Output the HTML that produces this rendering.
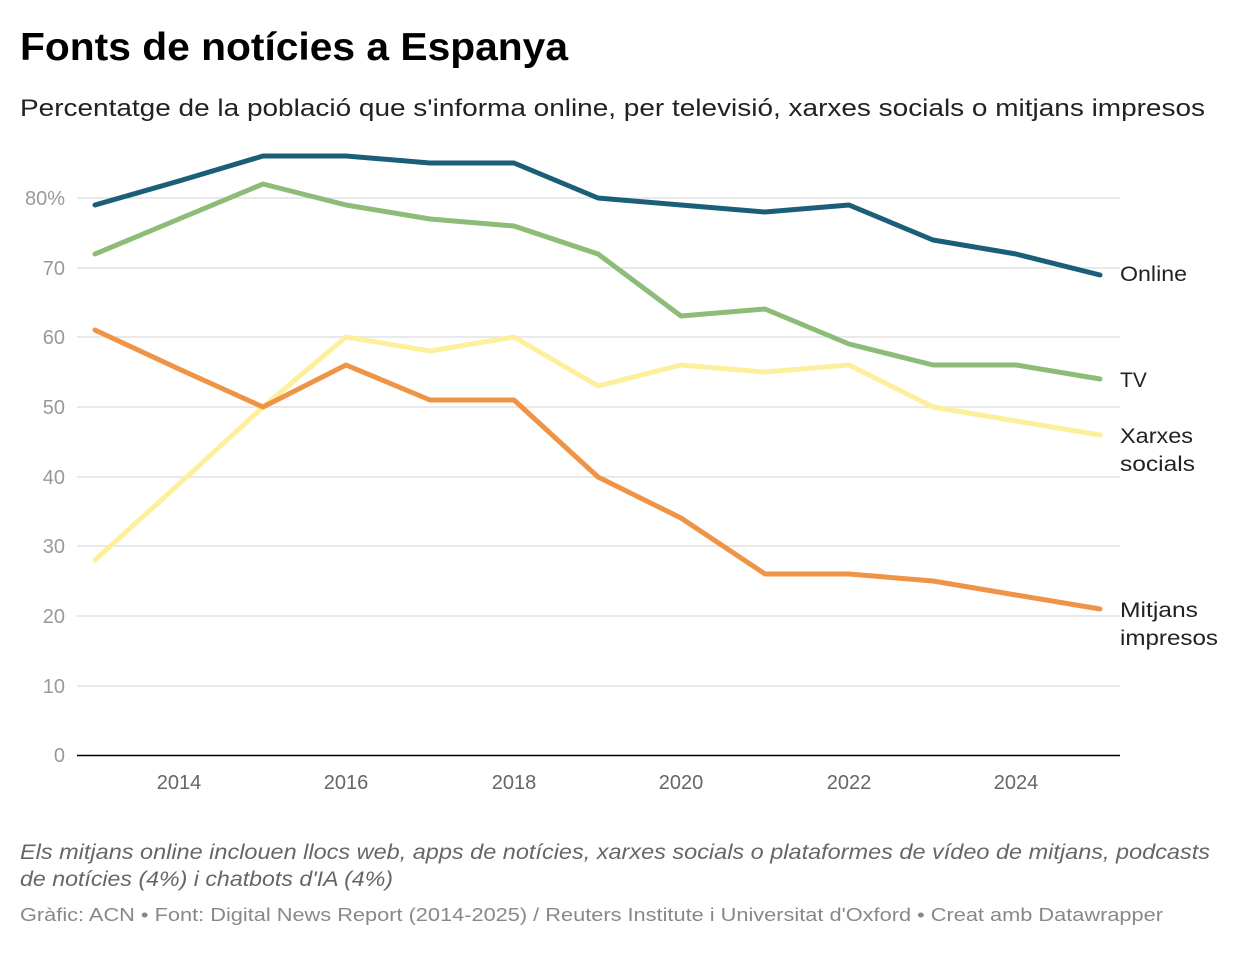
<!DOCTYPE html>
<html><head><meta charset="utf-8"><style>
body{margin:0;background:#fff;font-family:"Liberation Sans",sans-serif;}
</style></head><body>
<svg width="1240" height="948" xmlns="http://www.w3.org/2000/svg" font-family="Liberation Sans, sans-serif">
<text x="20" y="60" font-size="39" font-weight="bold" fill="#000" textLength="548" lengthAdjust="spacingAndGlyphs">Fonts de notícies a Espanya</text>
<text x="20" y="116" font-size="24" fill="#222" textLength="1185" lengthAdjust="spacingAndGlyphs">Percentatge de la població que s'informa online, per televisió, xarxes socials o mitjans impresos</text>
<g stroke="#e2e2e2" stroke-width="1.5">
<line x1="77" x2="1120" y1="198" y2="198"/><line x1="77" x2="1120" y1="268" y2="268"/><line x1="77" x2="1120" y1="337" y2="337"/><line x1="77" x2="1120" y1="407" y2="407"/><line x1="77" x2="1120" y1="477" y2="477"/><line x1="77" x2="1120" y1="546" y2="546"/><line x1="77" x2="1120" y1="616" y2="616"/><line x1="77" x2="1120" y1="686" y2="686"/>
</g>
<line x1="77" x2="1120" y1="755.5" y2="755.5" stroke="#000" stroke-width="1.5"/>
<g font-size="20" fill="#999" text-anchor="end">
<text x="65" y="205">80%</text><text x="65" y="275">70</text><text x="65" y="344">60</text><text x="65" y="414">50</text><text x="65" y="484">40</text><text x="65" y="553">30</text><text x="65" y="623">20</text><text x="65" y="693">10</text><text x="65" y="762">0</text>
</g>
<g font-size="20" fill="#666" text-anchor="middle">
<text x="179" y="789">2014</text><text x="346" y="789">2016</text><text x="514" y="789">2018</text><text x="681" y="789">2020</text><text x="849" y="789">2022</text><text x="1016" y="789">2024</text>
</g>
<g fill="none" stroke-width="5" stroke-linejoin="round" stroke-linecap="round">
<polyline stroke="#fdef9b" points="95,560 179,484 263,407 346,337 430,351 514,337 598,386 681,365 765,372 849,365 933,407 1016,421 1100,435"/>
<polyline stroke="#ef9446" points="95,330 179,369 263,407 346,365 430,400 514,400 598,477 681,518 765,574 849,574 933,581 1016,595 1100,609"/>
<polyline stroke="#8cbc78" points="95,254 179,219 263,184 346,205 430,219 514,226 598,254 681,316 765,309 849,344 933,365 1016,365 1100,379"/>
<polyline stroke="#1a5e78" points="95,205 179,181 263,156 346,156 430,163 514,163 598,198 681,205 765,212 849,205 933,240 1016,254 1100,275"/>
</g>
<g font-size="21" fill="#222">
<text x="1120" y="281" textLength="67" lengthAdjust="spacingAndGlyphs">Online</text>
<text x="1120" y="387">TV</text>
<text x="1120" y="443" textLength="73" lengthAdjust="spacingAndGlyphs">Xarxes</text><text x="1120" y="471" textLength="75" lengthAdjust="spacingAndGlyphs">socials</text>
<text x="1120" y="617" textLength="78" lengthAdjust="spacingAndGlyphs">Mitjans</text><text x="1120" y="645" textLength="98" lengthAdjust="spacingAndGlyphs">impresos</text>
</g>
<g font-size="21" fill="#666" font-style="italic">
<text x="20" y="859" textLength="1190" lengthAdjust="spacingAndGlyphs">Els mitjans online inclouen llocs web, apps de notícies, xarxes socials o plataformes de vídeo de mitjans, podcasts</text>
<text x="20" y="886" textLength="373" lengthAdjust="spacingAndGlyphs">de notícies (4%) i chatbots d'IA (4%)</text>
</g>
<text x="20" y="921" font-size="18" fill="#888" textLength="1143" lengthAdjust="spacingAndGlyphs">Gràfic: ACN • Font: Digital News Report (2014-2025) / Reuters Institute i Universitat d'Oxford • Creat amb Datawrapper</text>
</svg>
</body></html>
